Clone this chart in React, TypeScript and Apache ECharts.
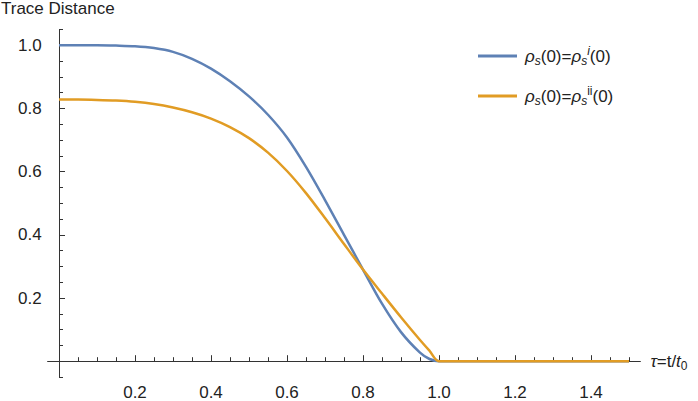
import React, { useEffect, useRef } from 'react';
import * as echarts from 'echarts';

// tau = t / t0
const tau = [0, 0.05, 0.1, 0.15, 0.2, 0.25, 0.3, 0.35, 0.4, 0.45, 0.5, 0.55, 0.6, 0.65, 0.7, 0.75, 0.8, 0.85, 0.9, 0.95, 0.975, 1.0, 1.25, 1.5];
// rho_s(0) = rho_s^i(0)
const traceI = [1.0, 1.0, 1.0, 0.999, 0.997, 0.991, 0.979, 0.957, 0.926, 0.886, 0.838, 0.780, 0.708, 0.615, 0.51, 0.40, 0.29, 0.182, 0.092, 0.027, 0.007, 0, 0, 0];
// rho_s(0) = rho_s^ii(0)
const traceII = [0.828, 0.828, 0.827, 0.825, 0.821, 0.814, 0.803, 0.788, 0.768, 0.741, 0.706, 0.66, 0.602, 0.532, 0.453, 0.371, 0.290, 0.214, 0.139, 0.067, 0.033, 0, 0, 0];

const xMajor = [0.2, 0.4, 0.6, 0.8, 1.0, 1.2, 1.4];
const xMinor = [0.05, 0.1, 0.15, 0.25, 0.3, 0.35, 0.45, 0.5, 0.55, 0.65, 0.7, 0.75, 0.85, 0.9, 0.95, 1.05, 1.1, 1.15, 1.25, 1.3, 1.35, 1.45, 1.5];
const yMajor = [0.2, 0.4, 0.6, 0.8, 1.0];
const yMinor = [-0.05, 0.05, 0.1, 0.15, 0.25, 0.3, 0.35, 0.45, 0.5, 0.55, 0.65, 0.7, 0.75, 0.85, 0.9, 0.95, 1.05];

const FONT = '"Liberation Sans", Arial, sans-serif';
const AXIS = '#333333';
const TEXT = '#222222';
const BLUE = '#5E81B5';
const ORANGE = '#E19C24';
const FS = 17;
const FS_SMALL = 12;

const X_MIN = -0.03, X_MAX = 1.53, Y_MIN = -0.05, Y_MAX = 1.05;

const legendRich = {
  r: { fontSize: FS, fontStyle: 'italic', fontFamily: FONT, color: TEXT, lineHeight: 22, verticalAlign: 'middle' },
  n: { fontSize: FS, fontFamily: FONT, color: TEXT, lineHeight: 22, verticalAlign: 'middle' },
  sb: { fontSize: FS_SMALL, fontStyle: 'italic', fontFamily: FONT, color: TEXT, lineHeight: 13, verticalAlign: 'bottom' },
  sp: { fontSize: FS_SMALL, fontStyle: 'italic', fontFamily: FONT, color: TEXT, lineHeight: 13, verticalAlign: 'top' },
  spn: { fontSize: FS_SMALL, fontFamily: FONT, color: TEXT, lineHeight: 13, verticalAlign: 'top' },
};

const option = {
  animation: false,
  title: {
    text: 'Trace Distance',
    left: 1,
    top: 0,
    padding: 0,
    textStyle: { fontSize: FS, fontWeight: 'normal', color: TEXT, fontFamily: FONT },
  },
  grid: { left: 47.6, right: 57.6, top: 29.45, bottom: 7.45, containLabel: false },
  legend: {
    data: ['i', 'ii'],
    orient: 'vertical',
    left: 478,
    top: 45,
    padding: 0,
    icon: 'rect',
    itemWidth: 39,
    itemHeight: 3,
    itemGap: 18,
    formatter: (name: string) =>
      name === 'i'
        ? '{r|ρ}{sb|s}{n|(0)=}{r|ρ}{sb|s}{sp|i}{n|(0)}'
        : '{r|ρ}{sb|s}{n|(0)=}{r|ρ}{sb|s}{spn|ii}{n|(0)}',
    textStyle: { fontSize: FS, fontFamily: FONT, color: TEXT, padding: [0, 0, 0, 3], rich: legendRich },
  },
  xAxis: [
    {
      type: 'value',
      min: X_MIN,
      max: X_MAX,
      position: 'bottom',
      axisLine: { onZero: true, onZeroAxisIndex: 0, lineStyle: { color: AXIS, width: 1 } },
      axisTick: { inside: true, length: 6, customValues: xMajor, lineStyle: { color: AXIS } },
      axisLabel: {
        customValues: xMajor,
        formatter: (v: number) => v.toFixed(1),
        margin: 7,
        fontSize: FS,
        color: TEXT,
        fontFamily: FONT,
      },
      splitLine: { show: false },
      name: '{it|τ}{n|=t/}{it|t}{sub|0}',
      nameLocation: 'end',
      nameGap: 10,
      nameTextStyle: {
        fontSize: FS,
        fontFamily: FONT,
        color: TEXT,
        rich: {
          it: { fontSize: FS, fontStyle: 'italic', fontFamily: FONT, color: TEXT, lineHeight: 22, verticalAlign: 'middle' },
          n: { fontSize: FS, fontFamily: FONT, color: TEXT, lineHeight: 22, verticalAlign: 'middle' },
          sub: { fontSize: FS_SMALL, fontFamily: FONT, color: TEXT, lineHeight: 13, verticalAlign: 'bottom' },
        },
      },
    },
    {
      type: 'value',
      min: X_MIN,
      max: X_MAX,
      position: 'bottom',
      axisLine: { show: false, onZero: true, onZeroAxisIndex: 0 },
      axisTick: { inside: true, length: 4, customValues: xMinor, lineStyle: { color: AXIS } },
      axisLabel: { show: false },
      splitLine: { show: false },
    },
  ],
  yAxis: [
    {
      type: 'value',
      min: Y_MIN,
      max: Y_MAX,
      position: 'left',
      axisLine: { onZero: true, onZeroAxisIndex: 0, lineStyle: { color: AXIS, width: 1 } },
      axisTick: { inside: true, length: 6, customValues: yMajor, lineStyle: { color: AXIS } },
      axisLabel: {
        customValues: yMajor,
        formatter: (v: number) => v.toFixed(1),
        margin: 6,
        fontSize: FS,
        color: TEXT,
        fontFamily: FONT,
      },
      splitLine: { show: false },
    },
    {
      type: 'value',
      min: Y_MIN,
      max: Y_MAX,
      position: 'left',
      axisLine: { show: false, onZero: true, onZeroAxisIndex: 0 },
      axisTick: { inside: true, length: 4, customValues: yMinor, lineStyle: { color: AXIS } },
      axisLabel: { show: false },
      splitLine: { show: false },
    },
  ],
  series: [
    {
      name: 'i',
      type: 'line',
      xAxisIndex: 0,
      yAxisIndex: 0,
      data: tau.map((t, i) => [t, traceI[i]]),
      showSymbol: false,
      smooth: 0.3,
      color: BLUE,
      lineStyle: { color: BLUE, width: 2.5 },
    },
    {
      name: 'ii',
      type: 'line',
      xAxisIndex: 0,
      yAxisIndex: 0,
      data: tau.map((t, i) => [t, traceII[i]]),
      showSymbol: false,
      smooth: 0.3,
      color: ORANGE,
      lineStyle: { color: ORANGE, width: 2.5 },
    },
  ],
};

export default function App() {
  const ref = useRef<HTMLDivElement>(null);
  useEffect(() => {
    const chart = echarts.init(ref.current!, undefined, { renderer: 'svg' });
    chart.setOption(option as any);
    return () => chart.dispose();
  }, []);
  return (
    <div
      ref={ref}
      style={{ position: 'absolute', left: 0, top: 0, width: 698, height: 401, background: '#fff' }}
    />
  );
}
